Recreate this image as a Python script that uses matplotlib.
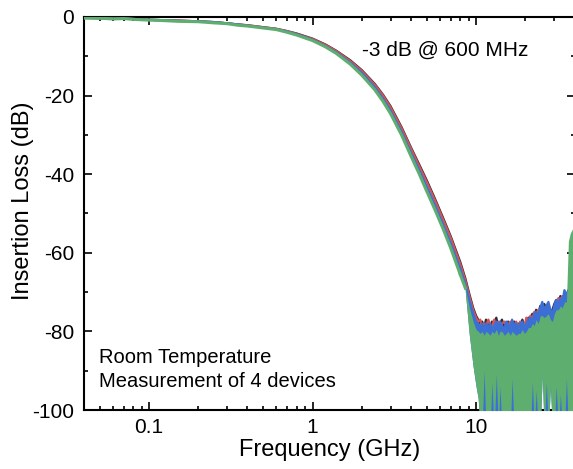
import matplotlib
matplotlib.use("Agg")
import matplotlib.pyplot as plt
from matplotlib.ticker import LogLocator, FixedLocator, NullFormatter, FuncFormatter

plt.rcParams['font.family'] = ['Liberation Sans', 'DejaVu Sans']
plt.rcParams['axes.unicode_minus'] = False

# ---- data ----
freq_roll = [0.04, 0.05, 0.06, 0.07, 0.08, 0.10, 0.12, 0.15, 0.20, 0.25, 0.30,
             0.35, 0.40, 0.50, 0.60, 0.70, 0.80, 1.0, 1.2, 1.4, 1.7, 2.0, 2.4,
             2.7, 3.0, 3.5, 4.0, 4.5, 5.0, 5.6, 6.3, 7.0, 8.0]

black_roll = [-0.2, -0.3, -0.3, -0.4, -0.5, -0.7, -0.8, -0.9, -1.1, -1.3, -1.6,
              -1.9, -2.1, -2.6, -3.0, -3.6, -4.2, -5.5, -7.0, -8.6, -11.0, -13.5, -17.0,
              -19.8, -22.7, -28.0, -33.2, -37.6, -41.6, -46.2, -51.2, -55.8, -62.3]
red_roll = [-0.2, -0.3, -0.4, -0.4, -0.5, -0.7, -0.8, -0.9, -1.1, -1.3, -1.6,
            -1.9, -2.1, -2.6, -3.0, -3.6, -4.3, -5.6, -7.1, -8.7, -11.2, -13.7, -17.2,
            -20.0, -23.0, -28.3, -33.5, -38.0, -42.0, -46.6, -51.6, -56.2, -62.8]
blue_roll = [-0.2, -0.3, -0.4, -0.4, -0.5, -0.7, -0.8, -1.0, -1.1, -1.3, -1.6,
             -1.9, -2.2, -2.7, -3.1, -3.7, -4.4, -5.8, -7.4, -9.0, -11.6, -14.2, -17.8,
             -20.8, -23.8, -29.2, -34.5, -39.0, -43.2, -47.8, -52.8, -57.5, -64.0]
green_roll = [-0.3, -0.3, -0.5, -0.4, -0.6, -0.8, -0.9, -1.1, -1.2, -1.5, -1.7,
              -2.1, -2.3, -2.8, -3.2, -3.9, -4.6, -6.0, -7.6, -9.3, -12.0, -14.8, -18.5,
              -21.5, -24.6, -30.0, -35.4, -40.0, -44.4, -49.0, -54.0, -58.8, -65.5]

freq_floor = [8.6, 9.1, 9.6, 10.0, 10.3, 10.6, 10.9, 11.2, 11.5, 11.9, 12.2, 12.5,
              12.9, 13.3, 13.7, 14.0, 14.4, 14.9, 15.3, 15.7, 16.2, 16.6, 17.1, 17.6,
              18.1, 18.6, 19.2, 19.7, 20.3, 20.9, 21.5, 22.1, 22.7, 23.3, 24.0, 24.7,
              25.4, 26.1, 26.9, 27.7, 28.5, 29.3, 30.1, 30.9, 31.9, 32.8, 33.7, 34.7,
              35.7, 36.7, 37.7, 38.8, 39.9]

black_floor = [-66.5, -70.5, -74.0, -76.0, -77.0, -78.0, -77.5, -79.0, -77.0, -78.5, -79.5, -77.5,
               -78.0, -76.5, -79.0, -78.0, -77.0, -79.0, -78.0, -77.5, -79.0, -78.0, -77.5, -79.5,
               -78.0, -78.5, -77.0, -78.5, -77.5, -76.5, -77.0, -75.5, -76.5, -74.5, -75.5, -73.5,
               -74.5, -73.0, -74.0, -73.5, -75.0, -74.5, -73.0, -72.0, -72.5, -71.0, -72.0, -70.5,
               -71.0, -69.5, -70.5, -68.0, -67.0]
red_floor = [-67.0, -71.0, -74.5, -76.5, -77.5, -77.0, -79.0, -78.0, -78.5, -77.0, -78.5, -79.0,
             -77.0, -78.5, -77.5, -79.5, -78.0, -77.5, -78.5, -79.0, -77.5, -78.5, -79.0, -77.5,
             -79.0, -77.5, -78.5, -79.0, -76.5, -77.5, -76.0, -77.0, -75.0, -76.0, -74.5, -76.0,
             -73.5, -75.0, -74.5, -75.0, -76.0, -77.0, -74.0, -73.0, -71.5, -73.0, -71.0, -72.5,
             -72.0, -71.0, -80.0, -86.0, -88.0]
blue_floor = [-68.0, -72.0, -75.5, -77.5, -78.0, -79.0, -78.0, -79.5, -78.0, -79.0, -78.0, -79.5,
              -78.5, -77.5, -79.0, -77.5, -78.5, -79.5, -77.5, -78.0, -79.5, -77.0, -78.5, -78.0,
              -79.5, -78.0, -77.5, -79.0, -78.0, -77.0, -76.5, -77.5, -75.5, -75.0, -76.0, -74.0,
              -72.5, -74.5, -73.5, -72.5, -74.5, -75.5, -73.5, -72.0, -73.0, -71.5, -72.5, -69.5,
              -70.5, -70.0, -71.0, -69.0, -68.5]
green_floor_top = [-69.0, -74.0, -77.5, -79.5, -80.0, -80.5, -80.0, -81.0, -80.0, -80.5, -81.0, -80.0,
                   -80.5, -79.5, -81.0, -80.0, -80.0, -81.0, -80.5, -80.0, -81.0, -80.0, -80.5, -81.0,
                   -80.5, -80.5, -79.5, -80.5, -80.0, -79.0, -79.0, -78.0, -78.5, -77.0, -78.0, -76.0,
                   -76.0, -76.5, -76.0, -75.5, -77.0, -77.5, -75.5, -74.5, -74.5, -73.5, -74.0, -72.5,
                   -72.5, -57.0, -55.0, -54.0, -54.0]
green_floor_low = [-70.0, -81.0, -89.0, -94.0, -97.0, -105, -105, -90.0, -105, -105, -105, -93.0,
                   -105, -91.0, -105, -94.0, -105, -105, -105, -105, -105, -92.0, -105, -105,
                   -105, -105, -105, -105, -105, -105, -105, -93.0, -105, -95.0, -105, -105,
                   -91.0, -105, -93.0, -105, -94.0, -105, -105, -94.0, -105, -96.0, -105, -105,
                   -92.0, -105, -105, -105, -105]
blue_floor_low = [-70.0, -81.0, -89.0, -94.0, -97.0, -105, -105, -105, -105, -105, -105, -105,
                  -105, -105, -105, -105, -105, -105, -105, -105, -105, -105, -105, -105,
                  -105, -105, -105, -105, -105, -105, -105, -105, -105, -105, -105, -105,
                  -91.0, -105, -105, -105, -94.0, -105, -105, -105, -105, -105, -105, -105,
                  -105, -105, -105, -105, -105]

xticks_major = [0.1, 1, 10]
xtick_labels = ['0.1', '1', '10']
yticks_major = [0, -20, -40, -60, -80, -100]
yticks_minor = [-10, -30, -50, -70, -90]

c_black = '#2e2e3c'
c_red = '#d9534f'
c_blue = '#3b6fd6'
c_green = '#5eae70'

fig = plt.figure(figsize=(5.73, 4.69), dpi=100)
ax = fig.add_axes([84 / 573, 59 / 469, 490.5 / 573, 393 / 469])

lw = 1.6
ax.plot(freq_roll + freq_floor, black_roll + black_floor, color=c_black, lw=lw, zorder=2)
ax.plot(freq_roll + freq_floor, red_roll + red_floor, color=c_red, lw=lw, zorder=3)
ax.plot(freq_roll + freq_floor, blue_roll + blue_floor, color=c_blue, lw=lw, zorder=4)
ax.fill_between(freq_floor, blue_floor_low, blue_floor, color=c_blue, lw=0, zorder=4)
ax.plot(freq_roll, green_roll, color=c_green, lw=2.2, zorder=5)
ax.fill_between(freq_floor, green_floor_low, green_floor_top, color=c_green, lw=0, zorder=5)
ax.plot([freq_roll[-1], freq_floor[0]], [green_roll[-1], green_floor_top[0]],
        color=c_green, lw=2.2, zorder=5)

ax.set_xscale('log')
ax.set_xlim(0.04, 40)
ax.set_ylim(-100, 0)

ax.xaxis.set_major_locator(FixedLocator(xticks_major))
ax.xaxis.set_major_formatter(FuncFormatter(lambda v, p: xtick_labels[xticks_major.index(v)] if v in xticks_major else ''))
ax.xaxis.set_minor_locator(LogLocator(base=10, subs=[2, 3, 4, 5, 6, 7, 8, 9], numticks=20))
ax.xaxis.set_minor_formatter(NullFormatter())
ax.set_yticks(yticks_major)
ax.set_yticks(yticks_minor, minor=True)

ax.tick_params(which='both', direction='in', top=True, right=True, width=1.2, color='black')
ax.tick_params(which='major', length=5.5)
ax.tick_params(which='minor', length=3)
ax.tick_params(axis='x', which='major', labelsize=15, pad=5.5)
ax.tick_params(axis='y', which='major', labelsize=15, pad=7)
for s in ax.spines.values():
    s.set_linewidth(1.5)

ax.set_xlabel('Frequency (GHz)', fontsize=17)
ax.set_ylabel('Insertion Loss (dB)', fontsize=17)
ax.xaxis.set_label_coords(0.5, -0.073)
ax.yaxis.set_label_coords(-0.102, 0.532)

ax.text(0.567, 0.916, '-3 dB @ 600 MHz', transform=ax.transAxes, fontsize=15,
        ha='left', va='center')
ax.text(0.031, 0.1196, 'Room Temperature', transform=ax.transAxes, fontsize=14.5,
        ha='left', va='baseline')
ax.text(0.031, 0.0585, 'Measurement of 4 devices', transform=ax.transAxes, fontsize=14.5,
        ha='left', va='baseline')

fig.savefig('out.png', dpi=100)
